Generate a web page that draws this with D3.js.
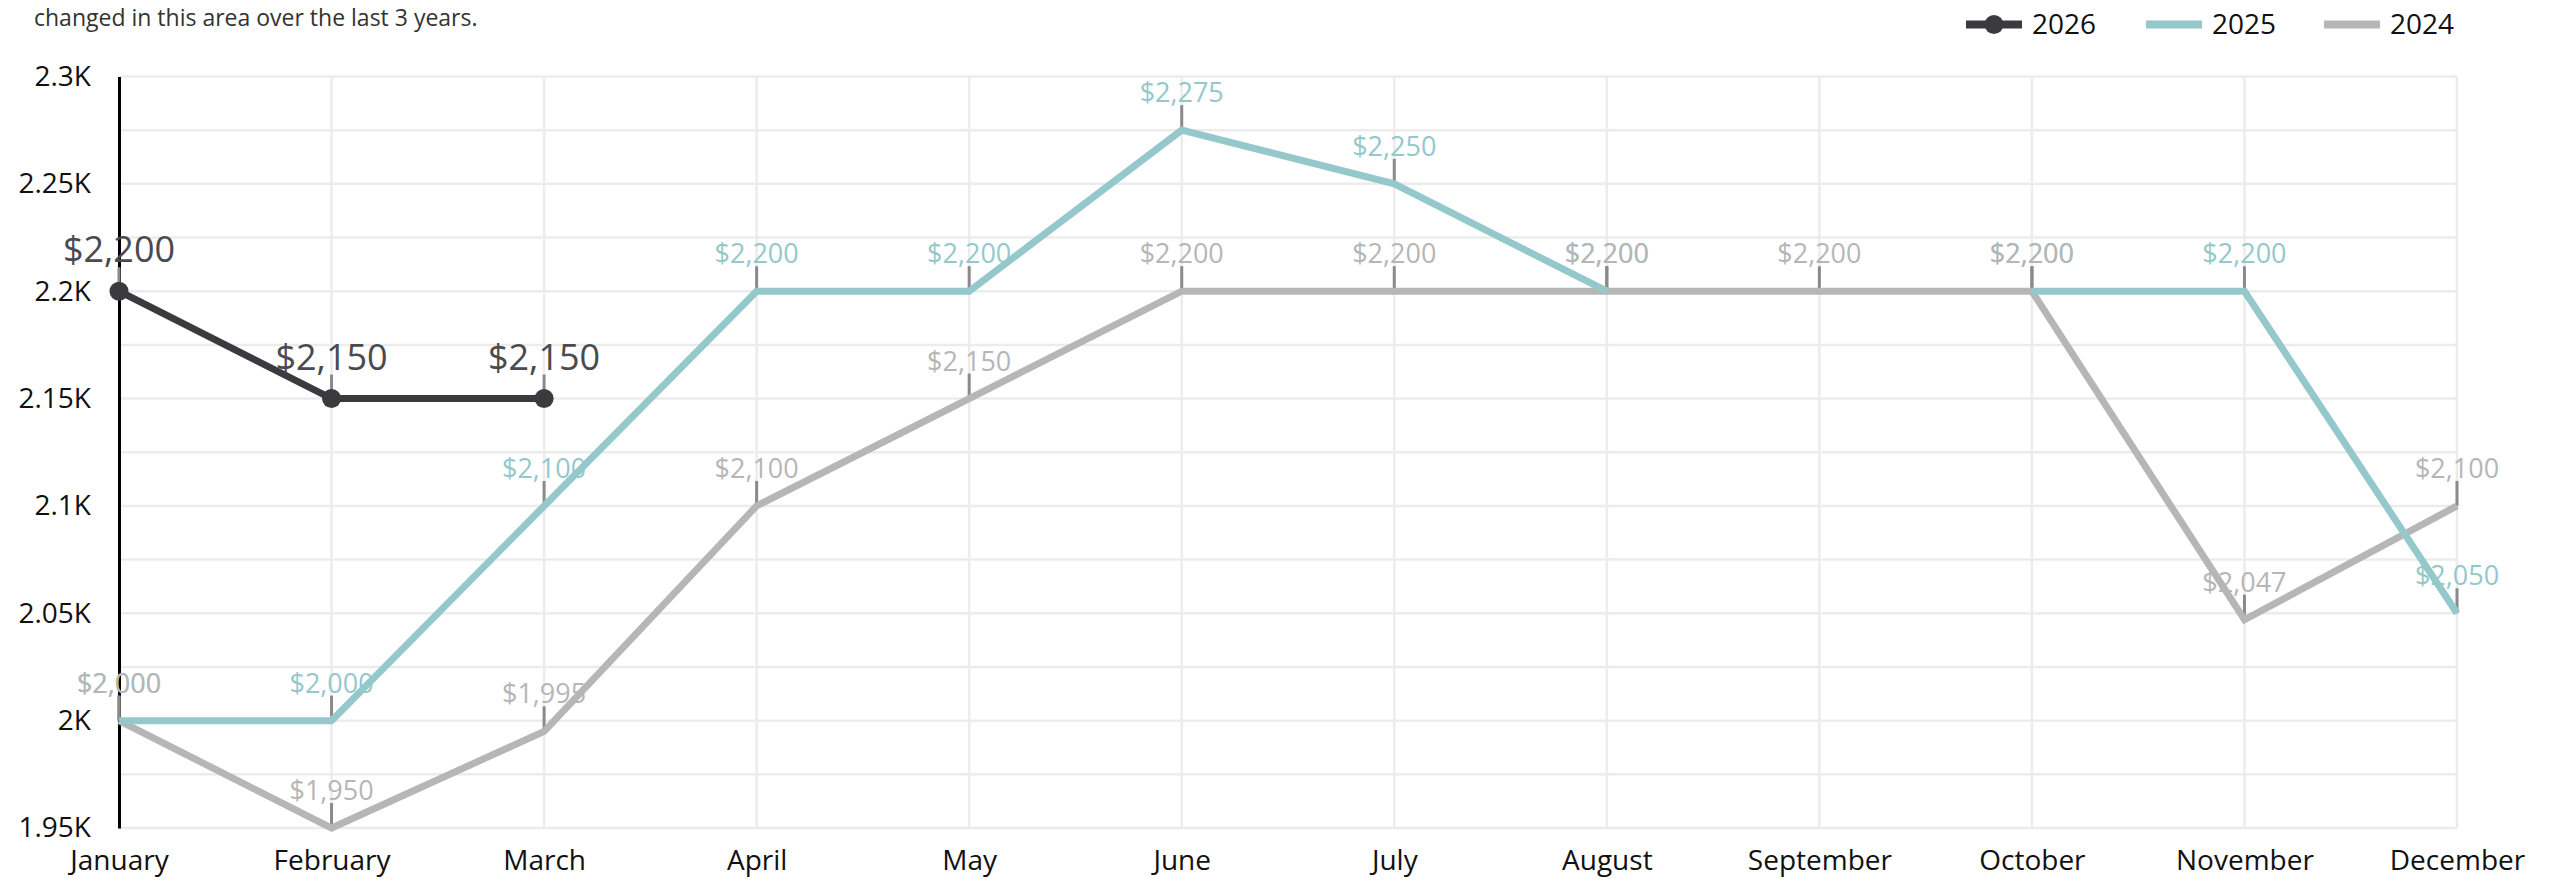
<!DOCTYPE html>
<html>
<head>
<meta charset="utf-8">
<script src="https://cdn.jsdelivr.net/npm/d3@7"></script>
<style>
  html, body { margin: 0; padding: 0; background: #fff; }
  body { font-family: "Open Sans", "Noto Sans", sans-serif; }
  svg { display: block; }
</style>
</head>
<body>
<div id="chart"></div>
<script>
// data
const months = ["January", "February", "March", "April", "May", "June",
  "July", "August", "September", "October", "November", "December"];
const years = ["2026", "2025", "2024"];
const rent2026 = [2200, 2150, 2150, null, null, null, null, null, null, null, null, null];
const rent2025 = [2000, 2000, 2100, 2200, 2200, 2275, 2250, 2200, null, 2200, 2200, 2050];
const rent2024 = [2000, 1950, 1995, 2100, 2150, 2200, 2200, 2200, 2200, 2200, 2047, 2100];
const yTicks = [1950, 2000, 2050, 2100, 2150, 2200, 2250, 2300];
const yGrid = [1950, 1975, 2000, 2025, 2050, 2075, 2100, 2125, 2150, 2175, 2200, 2225, 2250, 2275, 2300];
const subtitle = "changed in this area over the last 3 years.";

const colors = { "2026": "#3b3a3f", "2025": "#94c8cb", "2024": "#b6b6b6" };
const labelColors = { "2026": "#4a4a4f", "2025": "#94c8cb", "2024": "#b6b6b6" };

function drawChart() {
  // 1. dimensions
  const dimensions = {
    width: 2551,
    height: 883,
    margin: { top: 76.5, right: 94, bottom: 55, left: 119 }
  };
  dimensions.boundedWidth = dimensions.width - dimensions.margin.left - dimensions.margin.right;
  dimensions.boundedHeight = dimensions.height - dimensions.margin.top - dimensions.margin.bottom;

  // 2. canvas
  const wrapper = d3.select("#chart").append("svg")
      .attr("width", dimensions.width)
      .attr("height", dimensions.height);

  wrapper.append("text")
      .attr("x", 34)
      .attr("y", 26)
      .attr("font-size", 23)
      .attr("fill", "#333")
      .text(subtitle);

  const bounds = wrapper.append("g")
      .attr("transform", `translate(${dimensions.margin.left},${dimensions.margin.top})`);

  // 3. scales
  const xScale = d3.scalePoint()
      .domain(months)
      .range([0, dimensions.boundedWidth]);

  const yScale = d3.scaleLinear()
      .domain([1950, 2300])
      .range([dimensions.boundedHeight, 0]);

  // 4. grid
  const grid = bounds.append("g");
  grid.selectAll(".hgrid")
    .data(yGrid)
    .join("line")
      .attr("x1", 0)
      .attr("x2", dimensions.boundedWidth)
      .attr("y1", d => yScale(d))
      .attr("y2", d => yScale(d))
      .attr("stroke", "#ececec")
      .attr("stroke-width", 2.5);
  grid.selectAll(".vgrid")
    .data(months)
    .join("line")
      .attr("x1", d => xScale(d))
      .attr("x2", d => xScale(d))
      .attr("y1", 0)
      .attr("y2", dimensions.boundedHeight)
      .attr("stroke", "#ececec")
      .attr("stroke-width", 2.5);

  // 5. axes
  const yAxis = bounds.append("g")
      .call(d3.axisLeft(yScale)
        .tickValues(yTicks)
        .tickSize(0)
        .tickPadding(28)
        .tickFormat(d => d3.format("~")(d / 1000) + "K"));
  yAxis.select(".domain").attr("stroke", "#000").attr("stroke-width", 3);
  yAxis.selectAll("text")
      .attr("font-family", "Open Sans")
      .attr("font-size", 28)
      .attr("fill", "#111");

  const xAxis = bounds.append("g")
      .attr("transform", `translate(0,${dimensions.boundedHeight})`)
      .call(d3.axisBottom(xScale).tickSize(0).tickPadding(22));
  xAxis.select(".domain").remove();
  xAxis.selectAll("text")
      .attr("font-family", "Open Sans")
      .attr("font-size", 28)
      .attr("fill", "#111");

  // 6. lines
  const series = [
    { year: "2024", values: rent2024 },
    { year: "2025", values: rent2025 },
    { year: "2026", values: rent2026 }
  ];

  const lineGenerator = d3.line()
      .defined(d => d.v != null)
      .x(d => xScale(d.m))
      .y(d => yScale(d.v));

  const toPoints = s => s.values.map((v, i) => ({ m: months[i], v: v }));

  // label ticks
  const labelOrder = [series[1], series[0], series[2]];
  labelOrder.forEach(s => {
    const big = s.year === "2026";
    bounds.append("g").selectAll("line")
      .data(toPoints(s).filter(d => d.v != null))
      .join("line")
        .attr("x1", d => xScale(d.m))
        .attr("x2", d => xScale(d.m))
        .attr("y1", d => yScale(d.v))
        .attr("y2", d => yScale(d.v) - (big ? 24 : 25))
        .attr("stroke", "#8a8a8a")
        .attr("stroke-width", 3);
  });

  series.forEach(s => {
    bounds.append("path")
        .attr("d", lineGenerator(toPoints(s)))
        .attr("fill", "none")
        .attr("stroke", colors[s.year])
        .attr("stroke-width", 7);
  });

  bounds.append("g").selectAll("circle")
    .data(toPoints(series[2]).filter(d => d.v != null))
    .join("circle")
      .attr("cx", d => xScale(d.m))
      .attr("cy", d => yScale(d.v))
      .attr("r", 9.5)
      .attr("fill", colors["2026"]);

  // value labels
  const money = d3.format("$,");
  labelOrder.forEach(s => {
    const big = s.year === "2026";
    bounds.append("g").selectAll("text")
      .data(toPoints(s).filter(d => d.v != null))
      .join("text")
        .attr("x", d => xScale(d.m))
        .attr("y", d => yScale(d.v) - (big ? 29 : 28))
        .attr("text-anchor", "middle")
        .attr("font-size", big ? 36 : 27)
        .attr("fill", labelColors[s.year])
        .text(d => money(d.v));
  });

  // 7. legend
  const legendItems = [
    { year: "2026", x: 1966 },
    { year: "2025", x: 2146 },
    { year: "2024", x: 2324 }
  ];
  const legend = wrapper.append("g");
  legendItems.forEach(item => {
    legend.append("line")
        .attr("x1", item.x)
        .attr("x2", item.x + 56)
        .attr("y1", 24.5)
        .attr("y2", 24.5)
        .attr("stroke", colors[item.year])
        .attr("stroke-width", 8);
    if (item.year === "2026") {
      legend.append("circle")
          .attr("cx", item.x + 28)
          .attr("cy", 24.5)
          .attr("r", 9.5)
          .attr("fill", colors[item.year]);
    }
    legend.append("text")
        .attr("x", item.x + 66)
        .attr("y", 34)
        .attr("font-size", 28)
        .attr("fill", "#111")
        .text(item.year);
  });
}

drawChart();
</script>
</body>
</html>
